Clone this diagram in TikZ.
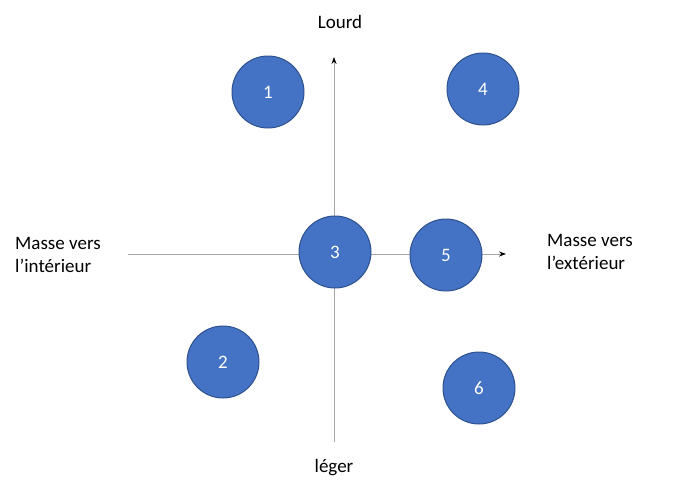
\documentclass[tikz,border=0pt]{standalone}
\usepackage{fontspec}
\setmainfont{Carlito}
\usetikzlibrary{arrows.meta}
\definecolor{cfill}{HTML}{4472C4}
\definecolor{cline}{HTML}{2F528F}
\begin{document}
\begin{tikzpicture}[x=1pt,y=-1pt,
  ball/.style={circle,fill=cfill,draw=cline,line width=1pt,minimum size=72pt,inner sep=0pt,text=white,font=\fontsize{19}{22}\selectfont},
  lab/.style={font=\fontsize{19}{23}\selectfont,align=left,inner sep=0pt},
  axis/.style={draw=gray!70,line width=0.8pt,-{Stealth[black,length=7pt,width=5pt]}}]
\useasboundingbox (0,0) rectangle (690,498);
\coordinate (vb) at (334,442);
\coordinate (vt) at (334,57);
\coordinate (hl) at (128,254);
\coordinate (hr) at (506,254);
\draw[axis] (vb) -- (vt);
\draw[axis] (hl) -- (hr);
\node[ball] (n1) at (268,92) {1};
\node[ball] (n4) at (483,89) {4};
\node[ball] (n3) at (335,252) {3};
\node[ball] (n5) at (446,255) {5};
\node[ball] (n2) at (223,362) {2};
\node[ball] (n6) at (479,388) {6};
\node[lab] (t1) at (340,22) {Lourd};
\node[lab] (t2) at (334,468) {léger};
\node[lab,anchor=west] (t3) at (15,255) {Masse vers\\l’intérieur};
\node[lab,anchor=west] (t4) at (547,252) {Masse vers\\l’extérieur};
\end{tikzpicture}
\end{document}
